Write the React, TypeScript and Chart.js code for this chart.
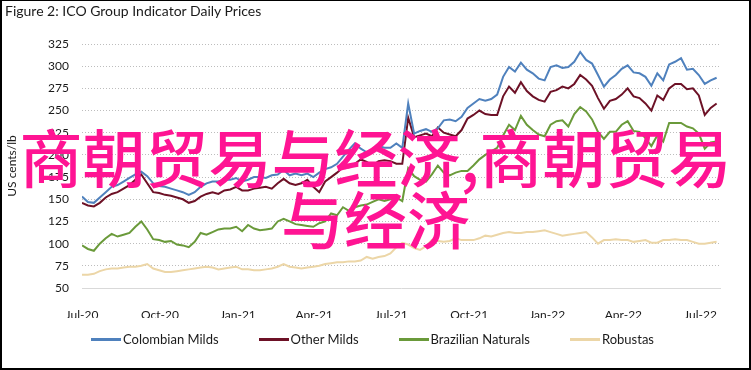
import React, { useEffect, useRef } from 'react';
import { Chart, registerables } from 'chart.js';

Chart.register(...registerables);

const TITLE = 'Figure 2: ICO Group Indicator Daily Prices';
const Y_TITLE = 'US cents/lb';
const WATERMARK = '商朝贸易与经济,商朝贸易与经济';

const START_DATE = '2020-07-01';
const END_DATE = '2022-07-24';
const STEP_DAYS = 7;

const TICK_DATES = ['2020-07-01', '2020-10-01', '2021-01-01', '2021-04-01', '2021-07-01', '2021-10-01', '2022-01-01', '2022-04-01', '2022-07-01'];
const TICK_LABELS = ['Jul-20', 'Oct-20', 'Jan-21', 'Apr-21', 'Jul-21', 'Oct-21', 'Jan-22', 'Apr-22', 'Jul-22'];

const Y_MIN = 50;
const Y_MAX = 325;
const Y_STEP = 25;

const SERIES_NAMES = ['Colombian Milds', 'Other Milds', 'Brazilian Naturals', 'Robustas'];
const SERIES_COLORS = ['#4f81bd', '#6d1126', '#6a9a3a', '#ecd6a7'];

const colombianMilds = [
  153, 147, 146, 152, 158, 164, 166, 170, 174, 178, 181, 176, 168, 165, 164, 162, 160, 158, 155, 158, 164, 168, 170, 170, 172, 172, 174, 170,
  172, 175, 175, 174, 177, 178, 183, 177, 179, 177, 179, 175, 180, 184, 186, 190, 198, 206, 213, 207, 203, 205, 210, 208, 208, 213, 208,
  258, 224, 227, 229, 226, 230, 239, 240, 238, 243, 253, 258, 263, 261, 263, 268, 288, 299, 294, 304, 296, 292, 286, 284, 299, 301, 298,
  299, 305, 316, 307, 303, 290, 277, 285, 290, 297, 301, 293, 292, 288, 278, 292, 284, 302, 305, 309, 296, 297, 290, 280, 284, 287,
];

const otherMilds = [
  146, 143, 142, 146, 152, 156, 158, 162, 166, 172, 178, 168, 158, 157, 155, 154, 152, 150, 146, 148, 153, 156, 158, 156, 160, 161, 164, 160,
  160, 162, 163, 164, 162, 168, 173, 168, 166, 168, 172, 164, 158, 170, 175, 180, 186, 186, 190, 195, 192, 188, 193, 194, 193, 190, 190,
  242, 220, 222, 224, 221, 231, 225, 223, 221, 228, 241, 245, 250, 246, 245, 245, 266, 277, 270, 282, 272, 266, 262, 260, 271, 273, 277,
  275, 280, 290, 285, 278, 264, 252, 261, 263, 268, 275, 266, 264, 258, 250, 267, 262, 275, 280, 280, 274, 275, 267, 245, 253, 258,
];

const brazilianNaturals = [
  98, 94, 92, 100, 106, 111, 108, 110, 112, 119, 125, 116, 105, 104, 102, 103, 99, 98, 96, 102, 112, 110, 113, 116, 117, 117, 119, 114,
  121, 117, 115, 116, 117, 125, 128, 125, 122, 121, 120, 119, 123, 125, 134, 132, 141, 137, 141, 143, 144, 147, 150, 148, 150, 152, 148,
  185, 176, 172, 170, 178, 188, 180, 177, 180, 182, 182, 188, 195, 200, 204, 208, 222, 234, 228, 244, 234, 228, 223, 221, 234, 238, 239,
  232, 246, 254, 249, 240, 226, 218, 226, 226, 234, 238, 227, 226, 219, 210, 222, 215, 236, 236, 236, 232, 230, 224, 207, 214, 215,
];

const robustas = [
  65, 65, 66, 69, 71, 72, 72, 73, 74, 74, 75, 77, 72, 70, 68, 68, 69, 70, 71, 72, 73, 74, 73, 71, 72, 73, 74, 71,
  71, 70, 70, 71, 72, 74, 77, 74, 73, 72, 73, 74, 75, 77, 78, 79, 79, 80, 80, 81, 85, 83, 85, 86, 89, 96, 101,
  99, 95, 93, 97, 104, 103, 102, 103, 106, 104, 104, 104, 106, 109, 108, 110, 112, 113, 112, 112, 113, 113, 114, 115, 113, 111, 109,
  110, 111, 112, 113, 107, 100, 104, 104, 105, 104, 104, 102, 103, 104, 101, 101, 104, 104, 105, 104, 104, 102, 100, 100, 101, 102,
];

const SERIES_VALUES = [colombianMilds, otherMilds, brazilianNaturals, robustas];

const DAY_MS = 86400000;
const dayOf = (d: string) => Math.round((Date.parse(d) - Date.parse(START_DATE)) / DAY_MS);

const FONT = 'Lato, "Liberation Sans", sans-serif';
const TEXT_COLOR = '#1a1a1a';

export default function App() {
  const canvasRef = useRef<HTMLCanvasElement | null>(null);

  useEffect(() => {
    const canvas = canvasRef.current;
    if (!canvas) return;
    const tickMap = new Map<number, string>();
    TICK_DATES.forEach((d, i) => tickMap.set(dayOf(d), TICK_LABELS[i]));

    const chart = new Chart(canvas, {
      type: 'line',
      data: {
        datasets: SERIES_VALUES.map((vals, k) => ({
          label: SERIES_NAMES[k],
          data: vals.map((v, i) => ({ x: i * STEP_DAYS, y: v })),
          borderColor: SERIES_COLORS[k],
          backgroundColor: SERIES_COLORS[k],
          borderWidth: 2,
          pointRadius: 0,
          tension: 0,
        })),
      },
      options: {
        responsive: false,
        animation: false,
        layout: { padding: { left: 4, right: 31, top: 44, bottom: 52 } },
        plugins: {
          legend: { display: false },
          title: { display: false },
          tooltip: { enabled: false },
        },
        scales: {
          x: {
            type: 'linear',
            min: 0,
            max: dayOf(END_DATE),
            grid: { display: false },
            border: { display: true, color: '#d9d9d9', width: 1 },
            ticks: {
              autoSkip: false,
              maxRotation: 0,
              padding: 12,
              color: TEXT_COLOR,
              font: { family: FONT, size: 12 },
              callback: (v: any) => tickMap.get(Number(v)) ?? '',
            },
            afterBuildTicks: (s: any) => {
              s.ticks = TICK_DATES.map((d) => ({ value: dayOf(d) }));
            },
            afterFit: (s: any) => {
              s.height = 30;
            },
          },
          y: {
            min: Y_MIN,
            max: Y_MAX,
            ticks: {
              stepSize: Y_STEP,
              padding: 13,
              color: TEXT_COLOR,
              font: { family: FONT, size: 12 },
            },
            grid: {
              drawTicks: false,
              lineWidth: 1,
              color: (ctx: any) => (ctx.tick && ctx.tick.value === Y_MIN ? 'rgba(0,0,0,0)' : '#bdbdbd'),
            },
            border: { display: false, dash: [1, 2] },
            title: {
              display: true,
              text: Y_TITLE,
              color: TEXT_COLOR,
              font: { family: FONT, size: 12 },
              padding: { top: 1, bottom: 0 },
            },
            afterFit: (s: any) => {
              s.width = 78;
            },
          },
        },
      },
    } as any);
    return () => chart.destroy();
  }, []);

  return (
    <div style={{ position: 'absolute', left: 0, top: 0, width: 751, height: 370, background: '#fff', overflow: 'hidden' }}>
      <canvas ref={canvasRef} width={751} height={370} style={{ position: 'absolute', left: 0, top: 0, width: 751, height: 370 }} />
      <div style={{ position: 'absolute', left: 5, top: 3, font: `14px ${FONT}`, lineHeight: '16px', color: TEXT_COLOR, whiteSpace: 'nowrap' }}>
        {TITLE}
      </div>
      <div
        style={{
          position: 'absolute',
          left: -3,
          top: 331,
          width: 751,
          display: 'flex',
          justifyContent: 'center',
          gap: 40,
          font: `13px ${FONT}`,
          lineHeight: '16px',
          color: TEXT_COLOR,
        }}
      >
        {SERIES_NAMES.map((name, k) => (
          <div key={name} style={{ display: 'flex', alignItems: 'center' }}>
            <span style={{ display: 'inline-block', width: 30, height: 3, background: SERIES_COLORS[k], marginRight: 2 }} />
            <span>{name}</span>
          </div>
        ))}
      </div>
      <div
        style={{
          position: 'absolute',
          left: 0,
          top: 124,
          width: 751,
          textAlign: 'center',
          font: `500 63px "Noto Sans CJK SC", sans-serif`,
          lineHeight: '62px',
          color: '#ff1493',
          pointerEvents: 'none',
        }}
      >
        {WATERMARK}
      </div>
      <div
        style={{
          position: 'absolute',
          left: 0,
          top: 0,
          width: 751,
          height: 370,
          boxSizing: 'border-box',
          borderTop: '1px solid #000',
          borderLeft: '2px solid #000',
          borderRight: '2px solid #000',
          borderBottom: '2px solid #000',
          pointerEvents: 'none',
        }}
      />
    </div>
  );
}
